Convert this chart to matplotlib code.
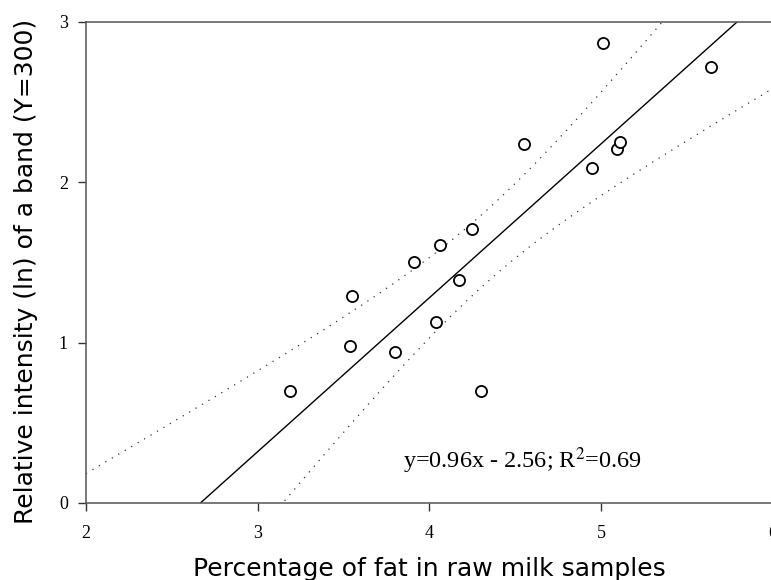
import numpy as np
import matplotlib
matplotlib.use("Agg")
import matplotlib.pyplot as plt

# fat content (%) and ln relative band intensity for each milk sample
fat_pct = [3.19, 3.54, 3.55, 3.80, 3.91, 4.06, 4.04, 4.17, 4.25, 4.30,
           4.55, 4.95, 5.01, 5.09, 5.11, 5.64]
rel_int = [0.70, 0.98, 1.29, 0.94, 1.50, 1.61, 1.13, 1.39, 1.71, 0.70,
           2.24, 2.09, 2.87, 2.21, 2.25, 2.72]

slope = 0.96
intercept = -2.56
r2 = 0.69
resid_se = 0.42   # residual standard error of the fit
t_95 = 2.145      # t(0.975, n-2=14)

x = np.array(fat_pct)
y = np.array(rel_int)
n = len(x)

# 95% confidence band of the fitted line
xs = np.linspace(2, 6, 300)
yfit = slope * xs + intercept
sxx = np.sum((x - x.mean()) ** 2)
hw = t_95 * resid_se * np.sqrt(1 / n + (xs - x.mean()) ** 2 / sxx)

plt.rcParams["mathtext.fontset"] = "stix"

fig = plt.figure(figsize=(7.71, 5.80), dpi=100)
ax = fig.add_axes([0.1115, 0.1328, 0.8908, 0.8293])

ax.plot(xs, yfit, color="black", lw=1.0)
ax.plot(xs, yfit + hw, color="#333333", lw=0.9, ls=(0, (1, 5)))
ax.plot(xs, yfit - hw, color="#333333", lw=0.9, ls=(0, (1, 5)))
ax.plot(x, y, "o", mfc="white", mec="black", ms=8, mew=1.3, ls="none")

ax.set_xlim(2, 6)
ax.set_ylim(0, 3)
ax.set_xticks([2, 3, 4, 5, 6])
ax.set_yticks([0, 1, 2, 3])

for side in ["left", "bottom", "top"]:
    ax.spines[side].set_color("#555555")
    ax.spines[side].set_linewidth(1.1)
ax.spines["right"].set_visible(False)

ax.tick_params(direction="out", length=6, width=1, color="#333333",
               labelsize=13)
ax.tick_params(axis="x", pad=10)
ax.tick_params(axis="y", pad=7)
for lab in ax.get_xticklabels() + ax.get_yticklabels():
    lab.set_fontfamily("Liberation Serif")

ax.set_xlabel("Percentage of fat in raw milk samples", fontsize=18,
              family="DejaVu Sans", labelpad=11)
ax.set_ylabel("Relative intensity (ln) of a band (Y=300)", fontsize=18,
              family="DejaVu Sans")
ax.yaxis.set_label_coords(-0.070, 0.482)

ax.text(3.845, 0.22, "y=%.2fx - %.2f; R$^{2}$=%.2f" % (slope, -intercept, r2),
        fontsize=17.5, family="Liberation Serif", va="baseline")

fig.savefig("out.png", dpi=100)
